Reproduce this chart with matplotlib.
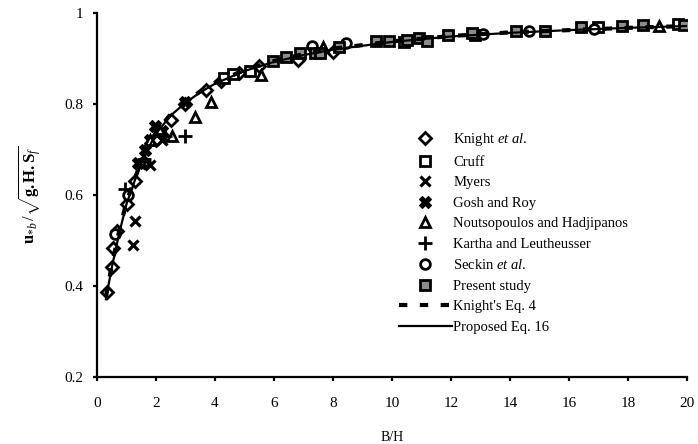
import matplotlib
matplotlib.use("Agg")
import matplotlib.pyplot as plt

plt.rcParams['font.family'] = ['Liberation Serif', 'DejaVu Serif']
plt.rcParams['mathtext.fontset'] = 'custom'
plt.rcParams['mathtext.rm'] = 'Liberation Serif'
plt.rcParams['mathtext.it'] = 'Liberation Serif:italic'
plt.rcParams['mathtext.bf'] = 'Liberation Serif:bold'

# data
knight_x = [0.33, 0.50, 0.55, 0.67, 1.0, 1.3, 1.6, 2.0, 2.5, 3.0, 3.7, 4.2, 4.8, 5.5, 6.8, 8.0]
knight_y = [0.387, 0.441, 0.483, 0.52, 0.579, 0.63, 0.672, 0.72, 0.765, 0.80, 0.83, 0.85, 0.868, 0.883, 0.897, 0.915]

cruff_x = [4.3, 4.6, 5.2, 10.4, 12.8, 17.0, 19.7]
cruff_y = [0.858, 0.866, 0.872, 0.936, 0.952, 0.969, 0.977]

myers_x = [1.23, 1.29, 1.8, 2.2]
myers_y = [0.49, 0.542, 0.665, 0.72]

gosh_x = [1.4, 1.62, 1.8, 1.96, 2.2, 2.98]
gosh_y = [0.671, 0.70, 0.72, 0.752, 0.74, 0.804]

nouts_x = [1.8, 2.1, 2.53, 3.32, 3.88, 5.57, 7.65, 19.05]
nouts_y = [0.72, 0.745, 0.73, 0.771, 0.804, 0.864, 0.925, 0.973]

kartha_x = [0.95, 1.6, 2.3, 2.98]
kartha_y = [0.612, 0.68, 0.73, 0.729]

seckin_x = [0.6, 1.05, 7.3, 8.45, 13.1, 14.65, 16.85]
seckin_y = [0.515, 0.60, 0.928, 0.935, 0.955, 0.96, 0.965]

present_x = [5.97, 6.42, 6.87, 7.4, 7.55, 8.22, 9.46, 9.9, 10.5, 10.93, 11.2, 11.9, 12.7,
             14.2, 15.2, 16.4, 17.8, 18.5, 19.9]
present_y = [0.896, 0.903, 0.912, 0.912, 0.912, 0.925, 0.938, 0.938, 0.942, 0.946, 0.94, 0.953, 0.956,
             0.96, 0.962, 0.97, 0.971, 0.974, 0.975]

# fitted curves
eq4_x = [0.3, 0.5, 0.75, 1.0, 1.5, 2.0, 2.5, 3.0, 3.5, 4.0, 5.0, 6.0, 7.0, 8.0, 10.0, 12.0, 14.0, 16.0, 18.0, 20.0]
eq4_y = [0.375, 0.445, 0.52, 0.585, 0.675, 0.738, 0.778, 0.805, 0.828, 0.847, 0.875, 0.895, 0.91, 0.922, 0.938, 0.95, 0.958, 0.963, 0.968, 0.972]

eq16_x = [0.3, 0.5, 0.75, 1.0, 1.5, 2.0, 2.5, 3.0, 3.5, 4.0, 5.0, 6.0, 7.0, 8.0, 10.0, 12.0, 14.0, 16.0, 18.0, 20.0]
eq16_y = [0.37, 0.44, 0.515, 0.58, 0.672, 0.735, 0.775, 0.803, 0.826, 0.845, 0.873, 0.893, 0.908, 0.92, 0.937, 0.949, 0.957, 0.963, 0.968, 0.972]

fig = plt.figure(figsize=(6.98, 4.44), dpi=100)
ax = fig.add_axes([0.139, 0.152, 0.845, 0.818])

mk = dict(linestyle='none', markersize=7, markeredgewidth=2, markeredgecolor='black')
ax.plot(knight_x, knight_y, marker='D', markerfacecolor='white', label=r'Knight $\it{et\ al.}$', **dict(mk, markersize=6))
ax.plot(cruff_x, cruff_y, marker='s', markerfacecolor='white', label='Cruff', **mk)
ax.plot(myers_x, myers_y, marker='x', color='black', label='Myers', **dict(mk, markeredgewidth=2.3))
ax.plot(gosh_x, gosh_y, marker='X', markerfacecolor='black', label='Gosh and Roy', **dict(mk, markeredgewidth=0.8, markersize=8))
ax.plot(nouts_x, nouts_y, marker='^', markerfacecolor='white', label='Noutsopoulos and Hadjipanos', **mk)
ax.plot(kartha_x, kartha_y, marker='+', color='black', label='Kartha and Leutheusser', **dict(mk, markersize=10))
ax.plot(seckin_x, seckin_y, marker='o', markerfacecolor='white', label=r'Seckin $\it{et\ al.}$', **mk)
ax.plot(present_x, present_y, marker='s', markerfacecolor='#8c8c8c', label='Present study', **dict(mk, markersize=6.5))
ax.plot(eq4_x, eq4_y, color='black', linestyle=(0, (2, 3)), linewidth=3, label="Knight's Eq. 4")
ax.plot(eq16_x, eq16_y, color='black', linewidth=1.6, label='Proposed Eq. 16')

ax.set_xlim(0, 20)
ax.set_ylim(0.2, 1.0)
ax.set_xticks(range(0, 21, 2))
ax.set_yticks([0.2, 0.4, 0.6, 0.8, 1.0])
ax.set_yticklabels(['0.2', '0.4', '0.6', '0.8', '1'])

for s in ['top', 'right']:
    ax.spines[s].set_visible(False)
for s in ['left', 'bottom']:
    ax.spines[s].set_linewidth(1.6)
ax.tick_params(axis='both', direction='out', length=3, width=1.6, labelsize=11)
ax.tick_params(axis='x', pad=12)
ax.tick_params(axis='y', pad=7)

ax.set_xlabel('B/H', fontsize=10, labelpad=15)
ax.set_ylabel(r'$\mathbf{u}_{*b}\,/\sqrt{\mathbf{g.H.S}_f}$', fontsize=12, labelpad=15)

ax.legend(loc='upper left', bbox_to_anchor=(0.5, 0.695), frameon=False, fontsize=10.5,
          handlelength=3.6, handletextpad=0.1, labelspacing=0.5, borderpad=0, numpoints=1)

fig.savefig('out.png', dpi=100)
